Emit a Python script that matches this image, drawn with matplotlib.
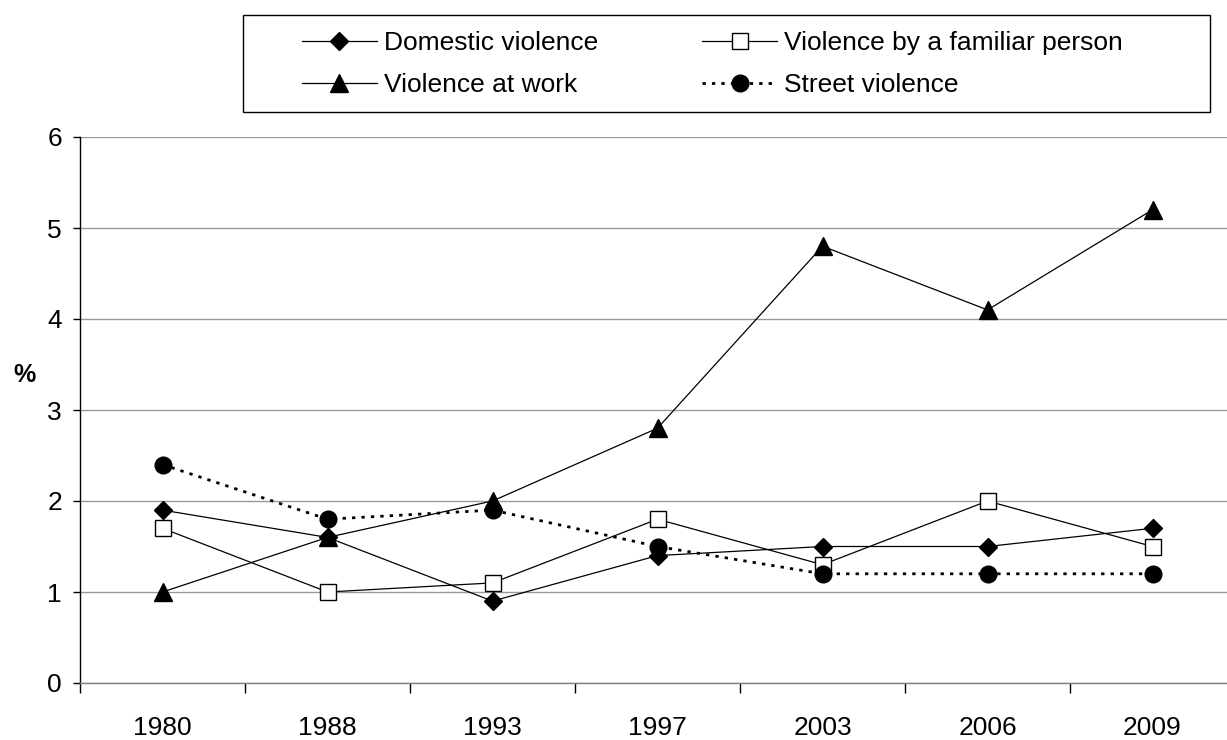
import matplotlib
matplotlib.use("Agg")
import matplotlib.pyplot as plt
import numpy as np
from matplotlib.patches import Rectangle

plt.rcParams['font.family'] = ['Liberation Sans', 'DejaVu Sans']

years = ["1980", "1988", "1993", "1997", "2003", "2006", "2009"]
domestic = [1.9, 1.6, 0.9, 1.4, 1.5, 1.5, 1.7]
familiar = [1.7, 1.0, 1.1, 1.8, 1.3, 2.0, 1.5]
work = [1.0, 1.6, 2.0, 2.8, 4.8, 4.1, 5.2]
street = [2.4, 1.8, 1.9, 1.5, 1.2, 1.2, 1.2]
labels = ["Domestic violence", "Violence by a familiar person",
          "Violence at work", "Street violence"]

W, H = 1227, 740
fig = plt.figure(figsize=(W / 100, H / 100), dpi=100)
ax = fig.add_axes([80 / W, 1 - 683 / H, 1155 / W, (683 - 137) / H])

x = np.arange(len(years))
lw = 0.9
h_dom, = ax.plot(x, domestic, color='black', lw=lw, marker='D', markersize=9.5,
                 markerfacecolor='black', markeredgecolor='black', zorder=4)
h_fam, = ax.plot(x, familiar, color='black', lw=lw, marker='s', markersize=12,
                 markerfacecolor='white', markeredgecolor='black', markeredgewidth=1, zorder=4)
h_work, = ax.plot(x, work, color='black', lw=lw, marker='^', markersize=13,
                  markerfacecolor='black', markeredgecolor='black', zorder=4)
h_str, = ax.plot(x, street, color='black', lw=2, linestyle=(0, (1.2, 2.2)),
                 marker='o', markersize=12, markerfacecolor='black',
                 markeredgecolor='black', zorder=4)

ax.set_xlim(-0.5, len(years) - 0.5)
ax.set_ylim(0, 6)
ax.set_yticks(range(0, 7))
ax.grid(axis='y', color='#999999', lw=1)
ax.set_axisbelow(True)

ax.set_xticks(x)
ax.set_xticklabels(years, fontsize=19)
ax.set_xticks(np.arange(len(years) + 1) - 0.5, minor=True)
ax.tick_params(axis='x', which='major', length=0, pad=24)
ax.tick_params(axis='x', which='minor', length=7, width=1, color='black', direction='out')
ax.tick_params(axis='y', length=5, width=1, pad=8, labelsize=19)

for s in ['top', 'right']:
    ax.spines[s].set_visible(False)
ax.spines['bottom'].set_color('#808080')
ax.spines['left'].set_color('black')
ax.spines['bottom'].set_linewidth(1)
ax.spines['left'].set_linewidth(1)

fig.text(25 / W, 1 - 375 / H, "%", fontsize=18, fontweight='bold', ha='center', va='center')

# legend frame
fig.patches.append(Rectangle((243 / W, 1 - 112 / H), (1210 - 243) / W, (112 - 15) / H,
                             transform=fig.transFigure, facecolor='white',
                             edgecolor='black', lw=1, zorder=0))

leg = fig.legend([h_dom, h_work, h_fam, h_str],
                 [labels[0], labels[2], labels[1], labels[3]], ncol=2,
                 loc='center left', bbox_to_anchor=(302 / W, 1 - 64 / H),
                 fontsize=19, frameon=False, handlelength=2.84,
                 borderaxespad=0, borderpad=0, columnspacing=3.94,
                 labelspacing=0.68, handletextpad=0.27)

fig.savefig("out.png", dpi=100)
